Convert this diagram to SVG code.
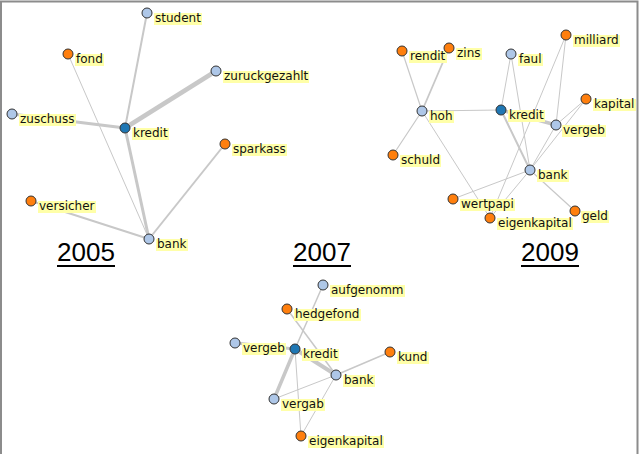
<svg xmlns="http://www.w3.org/2000/svg" width="640" height="454" viewBox="0 0 640 454">
<style>
.e{stroke:#c8c8c8;fill:none;stroke-linecap:round}
.n{stroke:#333;stroke-width:1}
.o{fill:#ff7f0e}.lb{fill:#aec7e8}.db{fill:#1f77b4}
.hl{fill:#ffffa8}
.t{font-family:"DejaVu Sans",Verdana,sans-serif;font-size:12px;fill:#111}
.y{font-family:"Liberation Sans",Arial,sans-serif;font-size:26px;fill:#000}
</style>
<rect x="0" y="0" width="640" height="454" fill="#fff"/>
<path d="M1,454 V1.5 H637.5 V454" fill="none" stroke="#8c8c8c" stroke-width="2"/>
<g id="years">
<text class="y" x="57" y="261">2005</text><rect x="57" y="265" width="58" height="2" fill="#000"/>
<text class="y" x="293" y="261">2007</text><rect x="293" y="265" width="58" height="2" fill="#000"/>
<text class="y" x="521" y="261">2009</text><rect x="521" y="265" width="58" height="2" fill="#000"/>
</g>
<g id="connectors">
<line class="e" x1="147" y1="13" x2="125" y2="128" stroke-width="2"/>
<line class="e" x1="68" y1="54" x2="149" y2="239" stroke-width="1"/>
<line class="e" x1="216" y1="71" x2="125" y2="128" stroke-width="4.5"/>
<line class="e" x1="12" y1="114" x2="125" y2="128" stroke-width="3"/>
<line class="e" x1="125" y1="128" x2="149" y2="239" stroke-width="3"/>
<line class="e" x1="225" y1="144" x2="149" y2="239" stroke-width="2"/>
<line class="e" x1="31" y1="201" x2="149" y2="239" stroke-width="2"/>

<line class="e" x1="323" y1="285" x2="295" y2="349" stroke-width="1.5"/>
<line class="e" x1="287" y1="309" x2="336" y2="375" stroke-width="1.5"/>
<line class="e" x1="235" y1="343" x2="295" y2="349" stroke-width="3"/>
<line class="e" x1="295" y1="349" x2="336" y2="375" stroke-width="4"/>
<line class="e" x1="390" y1="352" x2="336" y2="375" stroke-width="1.5"/>
<line class="e" x1="295" y1="349" x2="274" y2="399" stroke-width="3.5"/>
<line class="e" x1="295" y1="349" x2="301" y2="436" stroke-width="1"/>
<line class="e" x1="274" y1="399" x2="336" y2="375" stroke-width="1"/>
<line class="e" x1="336" y1="375" x2="301" y2="436" stroke-width="1"/>

<line class="e" x1="402" y1="51" x2="422" y2="111" stroke-width="1.2"/>
<line class="e" x1="449" y1="48" x2="422" y2="111" stroke-width="1.8"/>
<line class="e" x1="393" y1="155" x2="422" y2="111" stroke-width="1.2"/>
<line class="e" x1="422" y1="111" x2="501" y2="110" stroke-width="1.2"/>
<line class="e" x1="422" y1="111" x2="490" y2="218" stroke-width="1"/>
<line class="e" x1="511" y1="54" x2="501" y2="110" stroke-width="1"/>
<line class="e" x1="511" y1="54" x2="530" y2="170" stroke-width="1"/>
<line class="e" x1="501" y1="110" x2="556" y2="125" stroke-width="3.5"/>
<line class="e" x1="501" y1="110" x2="530" y2="170" stroke-width="2"/>
<line class="e" x1="566" y1="35" x2="556" y2="125" stroke-width="1"/>
<line class="e" x1="566" y1="35" x2="490" y2="218" stroke-width="1"/>
<line class="e" x1="586" y1="99" x2="556" y2="125" stroke-width="1"/>
<line class="e" x1="586" y1="99" x2="530" y2="170" stroke-width="1"/>
<line class="e" x1="556" y1="125" x2="530" y2="170" stroke-width="1"/>
<line class="e" x1="530" y1="170" x2="453" y2="199" stroke-width="1"/>
<line class="e" x1="530" y1="170" x2="490" y2="218" stroke-width="1"/>
<line class="e" x1="530" y1="170" x2="575" y2="211" stroke-width="1.2"/>
</g>

<g id="n05-student"><rect class="hl" x="154" y="13" width="48" height="12"/><text class="t" x="155" y="22">student</text><circle class="n lb" cx="147" cy="13" r="5"/></g>
<g id="n05-fond"><rect class="hl" x="75" y="54" width="29" height="12"/><text class="t" x="76" y="63">fond</text><circle class="n o" cx="68" cy="54" r="5"/></g>
<g id="n05-zuruckgezahlt"><rect class="hl" x="223" y="71" width="86" height="12"/><text class="t" x="224" y="80">zuruckgezahlt</text><circle class="n lb" cx="216" cy="71" r="5"/></g>
<g id="n05-zuschuss"><rect class="hl" x="19" y="114" width="57" height="12"/><text class="t" x="20" y="123">zuschuss</text><circle class="n lb" cx="12" cy="114" r="5"/></g>
<g id="n05-kredit"><rect class="hl" x="132" y="128" width="37" height="12"/><text class="t" x="133" y="137">kredit</text><circle class="n db" cx="125" cy="128" r="5"/></g>
<g id="n05-sparkass"><rect class="hl" x="232" y="144" width="55" height="12"/><text class="t" x="233" y="153">sparkass</text><circle class="n o" cx="225" cy="144" r="5"/></g>
<g id="n05-versicher"><rect class="hl" x="38" y="201" width="58" height="12"/><text class="t" x="39" y="210">versicher</text><circle class="n o" cx="31" cy="201" r="5"/></g>
<g id="n05-bank"><rect class="hl" x="156" y="239" width="32" height="12"/><text class="t" x="157" y="248">bank</text><circle class="n lb" cx="149" cy="239" r="5"/></g>

<g id="n07-aufgenomm"><rect class="hl" x="330" y="285" width="75" height="12"/><text class="t" x="331" y="294">aufgenomm</text><circle class="n lb" cx="323" cy="285" r="5"/></g>
<g id="n07-hedgefond"><rect class="hl" x="294" y="309" width="67" height="12"/><text class="t" x="295" y="318">hedgefond</text><circle class="n o" cx="287" cy="309" r="5"/></g>
<g id="n07-vergeb"><rect class="hl" x="242" y="343" width="44" height="12"/><text class="t" x="243" y="352">vergeb</text><circle class="n lb" cx="235" cy="343" r="5"/></g>
<g id="n07-kredit"><rect class="hl" x="302" y="349" width="37" height="12"/><text class="t" x="303" y="358">kredit</text><circle class="n db" cx="295" cy="349" r="5"/></g>
<g id="n07-kund"><rect class="hl" x="397" y="352" width="32" height="12"/><text class="t" x="398" y="361">kund</text><circle class="n o" cx="390" cy="352" r="5"/></g>
<g id="n07-bank"><rect class="hl" x="343" y="375" width="32" height="12"/><text class="t" x="344" y="384">bank</text><circle class="n lb" cx="336" cy="375" r="5"/></g>
<g id="n07-vergab"><rect class="hl" x="281" y="399" width="44" height="12"/><text class="t" x="282" y="408">vergab</text><circle class="n lb" cx="274" cy="399" r="5"/></g>
<g id="n07-eigenkapital"><rect class="hl" x="308" y="436" width="76" height="12"/><text class="t" x="309" y="445">eigenkapital</text><circle class="n o" cx="301" cy="436" r="5"/></g>

<g id="n09-milliard"><rect class="hl" x="573" y="35" width="47" height="12"/><text class="t" x="574" y="44">milliard</text><circle class="n o" cx="566" cy="35" r="5"/></g>
<g id="n09-rendit"><rect class="hl" x="409" y="51" width="38" height="12"/><text class="t" x="410" y="60">rendit</text><circle class="n o" cx="402" cy="51" r="5"/></g>
<g id="n09-zins"><rect class="hl" x="456" y="48" width="26" height="12"/><text class="t" x="457" y="57">zins</text><circle class="n o" cx="449" cy="48" r="5"/></g>
<g id="n09-faul"><rect class="hl" x="518" y="54" width="25" height="12"/><text class="t" x="519" y="63">faul</text><circle class="n lb" cx="511" cy="54" r="5"/></g>
<g id="n09-kapital"><rect class="hl" x="593" y="99" width="43" height="12"/><text class="t" x="594" y="108">kapital</text><circle class="n o" cx="586" cy="99" r="5"/></g>
<g id="n09-hoh"><rect class="hl" x="429" y="111" width="25" height="12"/><text class="t" x="430" y="120">hoh</text><circle class="n lb" cx="422" cy="111" r="5"/></g>
<g id="n09-kredit"><rect class="hl" x="508" y="110" width="37" height="12"/><text class="t" x="509" y="119">kredit</text><circle class="n db" cx="501" cy="110" r="5"/></g>
<g id="n09-vergeb"><rect class="hl" x="562" y="125" width="44" height="12"/><text class="t" x="563" y="134">vergeb</text><circle class="n lb" cx="556" cy="125" r="5"/></g>
<g id="n09-schuld"><rect class="hl" x="400" y="155" width="41" height="12"/><text class="t" x="401" y="164">schuld</text><circle class="n o" cx="393" cy="155" r="5"/></g>
<g id="n09-bank"><rect class="hl" x="537" y="170" width="32" height="12"/><text class="t" x="538" y="179">bank</text><circle class="n lb" cx="530" cy="170" r="5"/></g>
<g id="n09-wertpapi"><rect class="hl" x="460" y="199" width="55" height="12"/><text class="t" x="461" y="208">wertpapi</text><circle class="n o" cx="453" cy="199" r="5"/></g>
<g id="n09-geld"><rect class="hl" x="581" y="211" width="28" height="12"/><text class="t" x="582" y="220">geld</text><circle class="n o" cx="575" cy="211" r="5"/></g>
<g id="n09-eigenkapital"><rect class="hl" x="497" y="218" width="76" height="12"/><text class="t" x="498" y="227">eigenkapital</text><circle class="n o" cx="490" cy="218" r="5"/></g>
</svg>
